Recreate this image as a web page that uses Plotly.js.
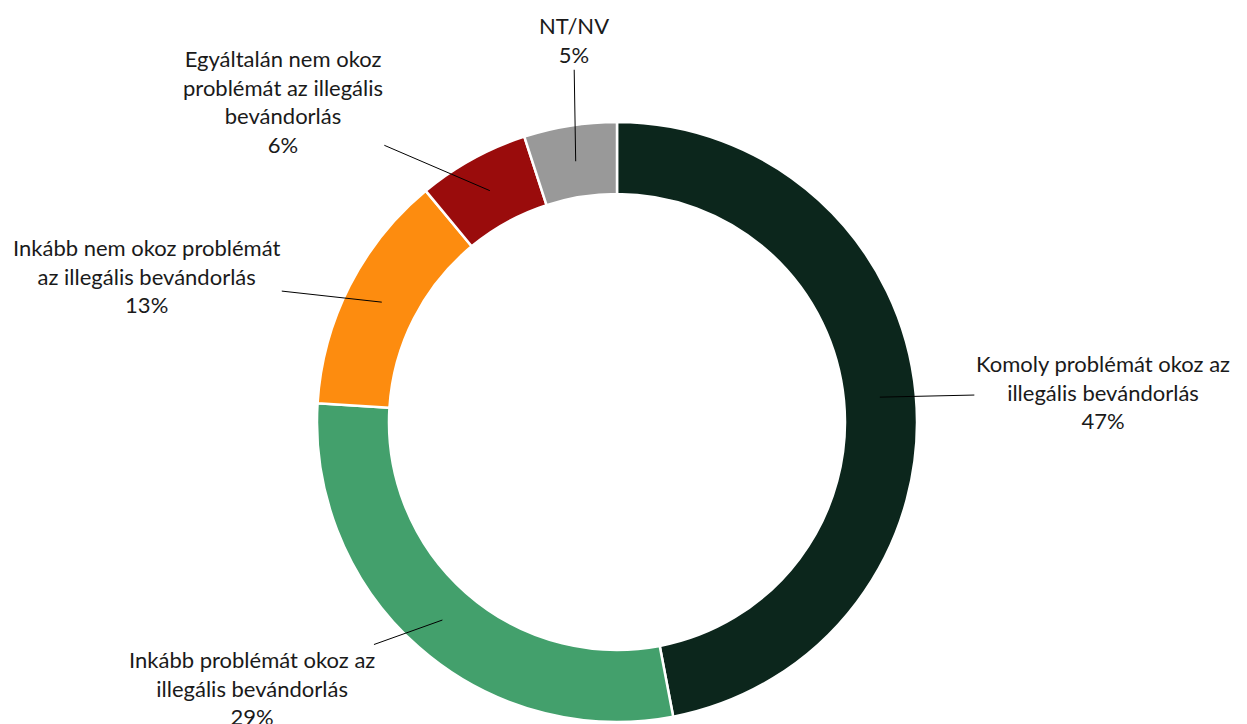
<!DOCTYPE html>
<html>
<head>
<meta charset="utf-8">
<script src="https://cdn.plot.ly/plotly-3.0.1.min.js"></script>
<style>html,body{margin:0;padding:0;background:#fff;}#chart{width:1247px;height:724px;}</style>
</head>
<body>
<div id="chart"></div>
<script>
const categories = [
  "Komoly problémát okoz az<br>illegális bevándorlás",
  "Inkább problémát okoz az<br>illegális bevándorlás",
  "Inkább nem okoz problémát<br>az illegális bevándorlás",
  "Egyáltalán nem okoz<br>problémát az illegális<br>bevándorlás",
  "NT/NV"
];
const values = [47, 29, 13, 6, 5];
const colors = ["#0c261c", "#43a06c", "#fd8c0f", "#9a0c0c", "#999999"];
// label text offsets (pixels from the slice's leader tip)
const labelOffsets = [[223, -5], [-190, 68], [-235, -26], [-207, -89], [-2, -121]];

const W = 1247, H = 724;
const margin = {l: 317, r: 330, t: 122, b: 2};
const pw = W - margin.l - margin.r, ph = H - margin.t - margin.b;
const cx = margin.l + pw / 2;
const cy = margin.t + ph / 2;
const R = Math.min(pw, ph) / 2;
const hole = 0.76;
const rMid = R * (1 + hole) / 2;
const total = values.reduce((a, b) => a + b, 0);

const annotations = [];
let cum = 0;
values.forEach((v, i) => {
  const mid = (cum + v / 2) / total * 2 * Math.PI;
  cum += v;
  const px = cx + rMid * Math.sin(mid);
  const py = cy - rMid * Math.cos(mid);
  annotations.push({
    x: (px - margin.l) / pw, y: 1 - (py - margin.t) / ph, xref: 'paper', yref: 'paper',
    text: categories[i] + '<br>' + v + '%',
    showarrow: true, arrowhead: 0, arrowwidth: 1, arrowcolor: '#000',
    ax: labelOffsets[i][0], ay: labelOffsets[i][1],
    font: {family: 'Lato, "Liberation Sans", sans-serif', size: 22, color: '#1a1a1a'},
    align: 'center'
  });
});

const data = [{
  type: 'pie',
  values: values,
  labels: categories,
  marker: {colors: colors, line: {color: '#ffffff', width: 2.5}},
  hole: hole,
  sort: false,
  direction: 'clockwise',
  rotation: 0,
  textinfo: 'none',
  hoverinfo: 'label+percent',
  showlegend: false
}];

const layout = {
  width: W, height: H,
  margin: margin,
  paper_bgcolor: '#ffffff',
  plot_bgcolor: '#ffffff',
  showlegend: false,
  annotations: annotations
};

Plotly.newPlot('chart', data, layout, {displayModeBar: false, staticPlot: true});
</script>
</body>
</html>
